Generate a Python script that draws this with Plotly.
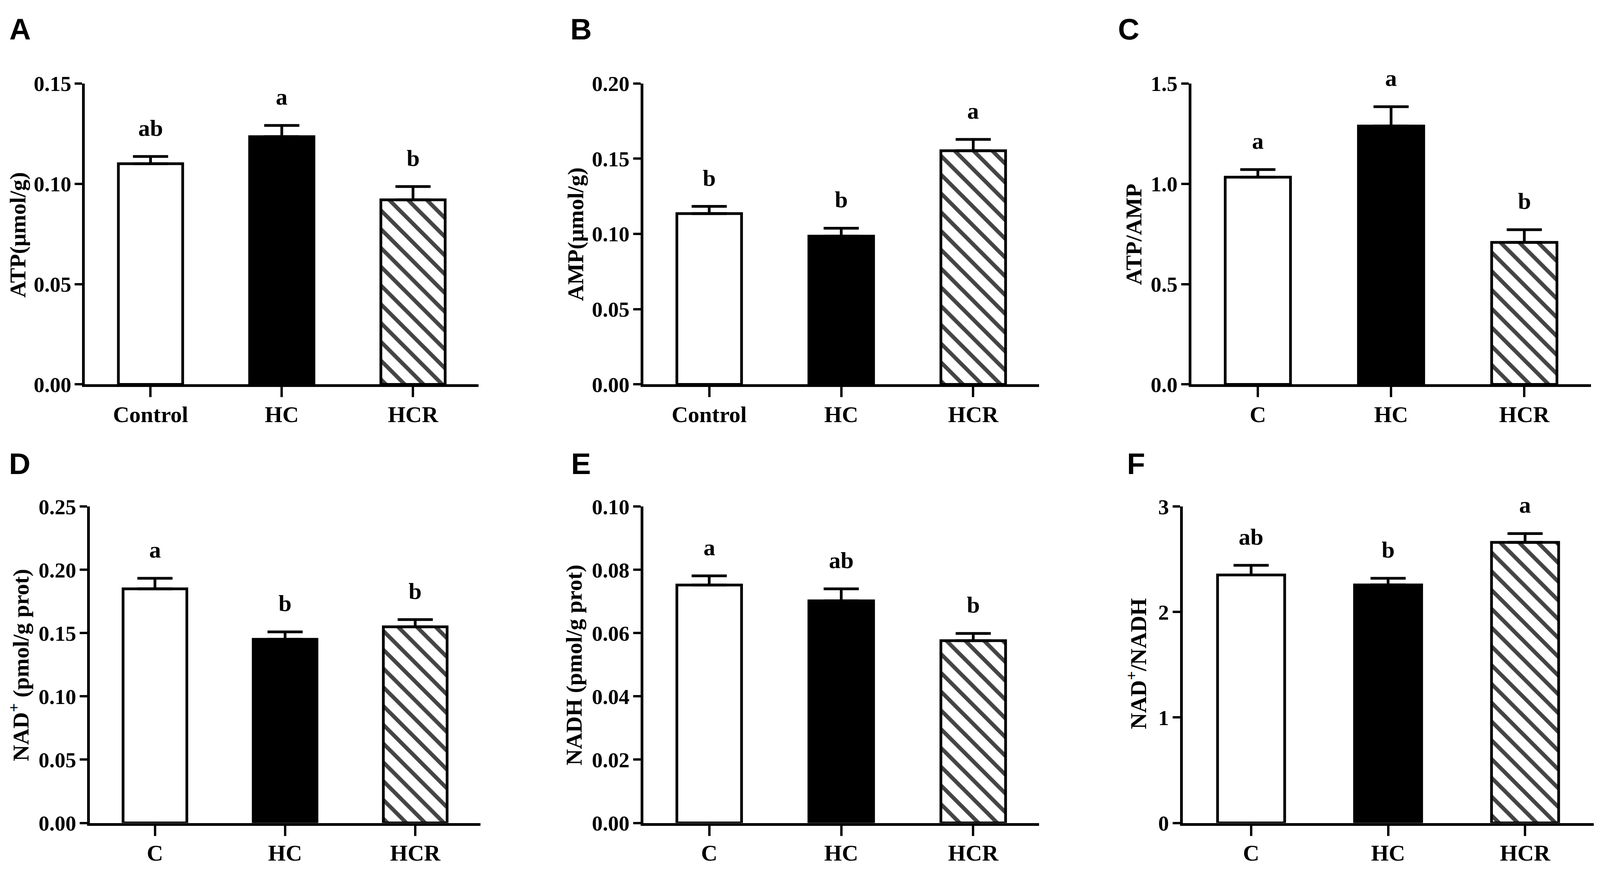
import plotly.graph_objects as go

# group names on the x axes
groups_ctrl = ["Control", "HC", "HCR"]
groups = ["C", "HC", "HCR"]

# panel A - ATP
atp = [0.1100, 0.1235, 0.0920]
atp_err = [0.0036, 0.0056, 0.0066]
atp_sig = ["ab", "a", "b"]

# panel B - AMP
amp = [0.1135, 0.0985, 0.1553]
amp_err = [0.0048, 0.0053, 0.0075]
amp_sig = ["b", "b", "a"]

# panel C - ATP/AMP
atp_amp = [1.033, 1.288, 0.708]
atp_amp_err = [0.038, 0.096, 0.063]
atp_amp_sig = ["a", "a", "b"]

# panel D - NAD+
nad = [0.1850, 0.1451, 0.1550]
nad_err = [0.0083, 0.0059, 0.0057]
nad_sig = ["a", "b", "b"]

# panel E - NADH
nadh = [0.0752, 0.0702, 0.0576]
nadh_err = [0.0029, 0.0038, 0.0023]
nadh_sig = ["a", "ab", "b"]

# panel F - NAD+/NADH
nad_nadh = [2.351, 2.257, 2.660]
nad_nadh_err = [0.092, 0.063, 0.084]
nad_nadh_sig = ["ab", "b", "a"]

# reference image size, only used to turn measured spots into paper fractions
W, H = 4813, 2246
SERIF = "Liberation Serif"
SANS = "Liberation Sans"

# (letter, x labels, values, errors, letters, y title, y ticks, tick format,
#  x domain px, y domain px, letter pos px, title pos px)
panels = [
    ("A", groups_ctrl, atp, atp_err, atp_sig, "ATP(μmol/g)",
     [0, 0.05, 0.10, 0.15], ".2f", (247, 1436), (182, 980), (17, 38), (44, 583)),
    ("B", groups_ctrl, amp, amp_err, amp_sig, "AMP(μmol/g)",
     [0, 0.05, 0.10, 0.15, 0.20], ".2f", (1933, 3129), (182, 980), (1711, 38), (1728, 582)),
    ("C", groups, atp_amp, atp_amp_err, atp_amp_sig, "ATP/AMP",
     [0, 0.5, 1.0, 1.5], ".1f", (3588, 4795), (182, 980), (3364, 38), (3414, 582)),
    ("D", groups, nad, nad_err, nad_sig, "NAD<sup>+</sup> (pmol/g prot)",
     [0, 0.05, 0.10, 0.15, 0.20, 0.25], ".2f", (262, 1441), (1304, 2143), (15, 1190), (49, 1724)),
    ("E", groups, nadh, nadh_err, nadh_sig, "NADH (pmol/g prot)",
     [0, 0.02, 0.04, 0.06, 0.08, 0.10], ".2f", (1933, 3129), (1304, 2143), (1713, 1190), (1724, 1724)),
    ("F", groups, nad_nadh, nad_nadh_err, nad_nadh_sig, "NAD<sup>+</sup>/NADH",
     [0, 1, 2, 3], "d", (3562, 4803), (1304, 2143), (3391, 1190), (3424, 1721)),
]

fig = go.Figure()
annotations = []
layout = {}

for i, (lab, xlab, vals, errs, sig, ytitle, yticks, fmt, xd, yd, lpos, tpos) in enumerate(panels):
    n = "" if i == 0 else str(i + 1)
    fig.add_trace(go.Bar(
        x=[0, 1, 2], y=vals, width=0.49,
        xaxis="x" + n, yaxis="y" + n,
        marker=dict(
            color=["white", "black", "white"],
            line=dict(color="black", width=7),
            pattern=dict(shape=["", "", "\\"], fgcolor="black", bgcolor="white",
                         fgopacity=1, size=34, solidity=0.3),
        ),
        error_y=dict(type="data", array=errs, arrayminus=[0, 0, 0], symmetric=False,
                     color="black", thickness=7, width=45),
        showlegend=False,
    ))
    layout["xaxis" + n] = dict(
        domain=[xd[0] / W, xd[1] / W], anchor="y" + n,
        range=[-0.5, 2.5], tickvals=[0, 1, 2], ticktext=xlab,
        showline=True, linecolor="black", linewidth=7,
        ticks="outside", ticklen=26, tickwidth=6, tickcolor="black",
        showgrid=False, zeroline=False, ticklabelstandoff=-6,
        tickfont=dict(family=SERIF, size=58, color="black", weight="bold"),
    )
    layout["yaxis" + n] = dict(
        domain=[1 - yd[1] / H, 1 - yd[0] / H], anchor="x" + n,
        range=[0, yticks[-1]], tickvals=yticks, tickformat=fmt,
        showline=True, linecolor="black", linewidth=7,
        ticks="outside", ticklen=19, tickwidth=6, tickcolor="black",
        showgrid=False, zeroline=False, ticklabelstandoff=-2,
        tickfont=dict(family=SERIF, size=55, color="black", weight="bold"),
    )
    # panel letter
    annotations.append(dict(
        text=lab, x=lpos[0] / W, y=1 - lpos[1] / H, xref="paper", yref="paper",
        xanchor="left", yanchor="middle", showarrow=False,
        font=dict(family=SANS, size=76, color="black", weight="bold"),
    ))
    # y axis title
    annotations.append(dict(
        text=ytitle, x=tpos[0] / W, y=1 - tpos[1] / H, xref="paper", yref="paper",
        xanchor="center", yanchor="middle", textangle=-90, showarrow=False,
        font=dict(family=SERIF, size=58, color="black", weight="bold"),
    ))
    # significance letters
    for j in range(3):
        annotations.append(dict(
            text=sig[j], x=j, y=vals[j] + errs[j], xref="x" + n, yref="y" + n,
            xanchor="center", yanchor="bottom", yshift=38, showarrow=False,
            font=dict(family=SERIF, size=60, color="black", weight="bold"),
        ))

fig.update_layout(
    autosize=True,
    margin=dict(l=0, r=0, t=0, b=0),
    paper_bgcolor="white", plot_bgcolor="white",
    annotations=annotations,
    **layout,
)

fig.write_html("out.html")
